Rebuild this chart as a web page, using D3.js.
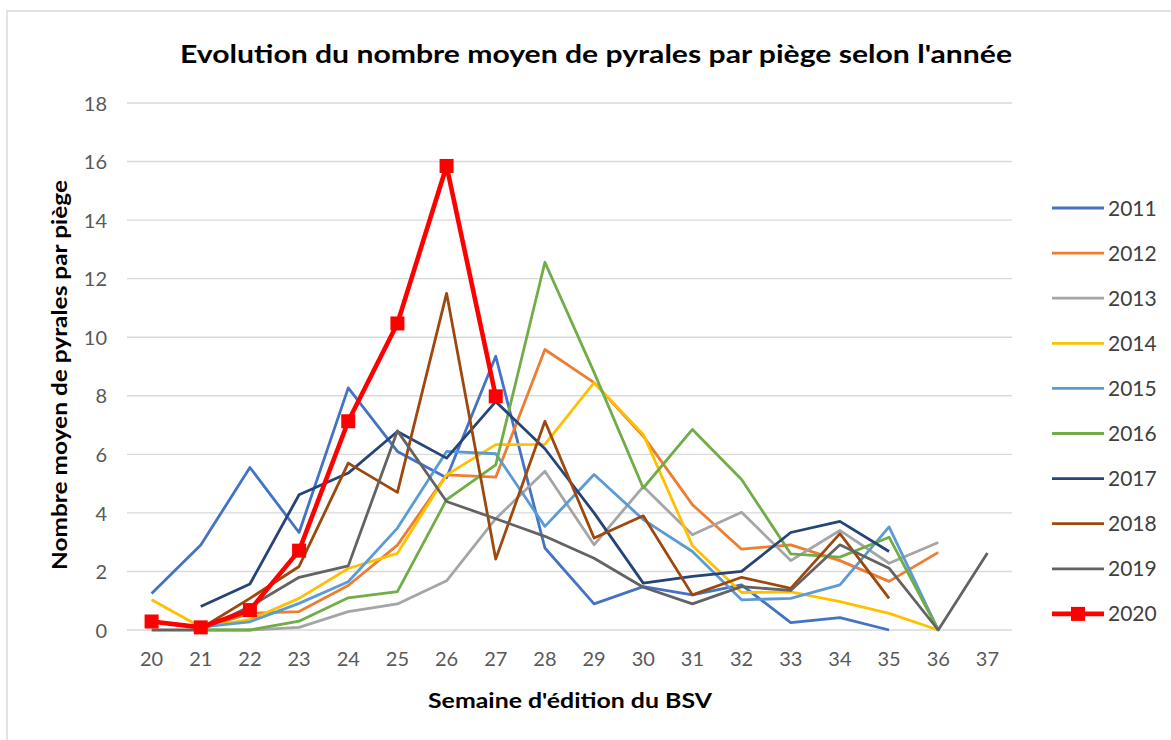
<!DOCTYPE html>
<html><head><meta charset="utf-8">
<script src="https://cdn.jsdelivr.net/npm/d3@7"></script>
<style>
html,body{margin:0;padding:0;background:#fff;}
svg{display:block;font-family:Lato,"Open Sans","Liberation Sans",sans-serif;}
</style></head><body>
<svg id="chart" width="1171" height="740"></svg>
<script>
const weeks = [20,21,22,23,24,25,26,27,28,29,30,31,32,33,34,35,36,37];
const years = ["2011","2012","2013","2014","2015","2016","2017","2018","2019","2020"];
const colors = ["#4472C4","#ED7D31","#A5A5A5","#FFC000","#5B9BD5","#70AD47","#264478","#9E480E","#636363","#FF0000"];
// values per week 20..37 (null = no data)
const s2011 = [1.25,2.9,5.55,3.33,8.27,6.1,5.2,9.35,2.8,0.89,1.48,1.2,1.54,0.25,0.42,0,null,null];
const s2012 = [null,0.05,0.57,0.63,1.52,2.9,5.3,5.22,9.58,8.45,6.62,4.28,2.76,2.91,2.37,1.66,2.65,null];
const s2013 = [null,0,0,0.09,0.63,0.89,1.68,3.8,5.42,2.91,4.9,3.25,4.02,2.37,3.4,2.28,2.99,null];
const s2014 = [1.03,0.1,0.35,1.08,2.1,2.62,5.3,6.33,6.34,8.45,6.68,2.88,1.28,1.3,0.97,0.57,0,null];
const s2015 = [null,0.1,0.28,0.91,1.65,3.48,6.1,6.02,3.54,5.31,3.77,2.68,1.03,1.08,1.54,3.52,0,null];
const s2016 = [null,0,0,0.3,1.1,1.31,4.45,5.64,12.56,8.8,4.85,6.85,5.14,2.6,2.49,3.17,0,null];
const s2017 = [null,0.8,1.57,4.62,5.36,6.78,5.87,7.8,6.19,4.0,1.6,1.83,2.0,3.33,3.71,2.68,null,null];
const s2018 = [null,0.05,1.08,2.17,5.7,4.7,11.5,2.42,7.13,3.14,3.9,1.2,1.8,1.42,3.29,1.08,null,null];
const s2019 = [0,0,0.8,1.8,2.19,6.8,4.39,3.8,3.2,2.45,1.46,0.89,1.48,1.35,2.91,2.11,0,2.63];
const s2020 = [0.29,0.09,0.68,2.71,7.13,10.47,15.85,7.98,null,null,null,null,null,null,null,null,null,null];
const series = [s2011,s2012,s2013,s2014,s2015,s2016,s2017,s2018,s2019,s2020];
const yTicks = [0,2,4,6,8,10,12,14,16,18];

const svg = d3.select("#chart");
// chart border
svg.append("rect").attr("x",7).attr("y",11).attr("width",1180).attr("height",760)
  .attr("fill","none").attr("stroke","#d9d9d9").attr("stroke-width",1.5);

const pLeft = 127, pRight = 1012, pTop = 103, pBottom = 630;
const x = d3.scaleBand().domain(weeks).range([pLeft,pRight]);
const y = d3.scaleLinear().domain([0,18]).range([pBottom,pTop]);
const cx = w => x(w) + x.bandwidth()/2;

// gridlines
svg.append("g").selectAll("line").data(yTicks).join("line")
  .attr("x1",pLeft).attr("x2",pRight)
  .attr("y1",d=>y(d)).attr("y2",d=>y(d))
  .attr("stroke","#d9d9d9").attr("stroke-width",1.4);

// y axis labels
const yAxis = svg.append("g").attr("transform",`translate(${pLeft-20},0)`)
  .call(d3.axisLeft(y).tickValues(yTicks).tickSize(0).tickPadding(0));
yAxis.select(".domain").remove();
yAxis.selectAll("text").attr("font-size",20).attr("fill","#595959")
  .attr("font-family","Lato,'Open Sans',sans-serif").attr("dy","0.36em");

// x axis labels
const xAxis = svg.append("g").attr("transform",`translate(0,${pBottom+22})`)
  .call(d3.axisBottom(x).tickSize(0).tickPadding(0));
xAxis.select(".domain").remove();
xAxis.selectAll("text").attr("font-size",20).attr("fill","#595959")
  .attr("font-family","Lato,'Open Sans',sans-serif").attr("dy","0.7em");

// lines
const line = d3.line().defined(d=>d.v!==null).x(d=>cx(d.w)).y(d=>y(d.v));
series.forEach((s,i)=>{
  const pts = weeks.map((w,j)=>({w:w,v:s[j]}));
  svg.append("path").datum(pts).attr("d",line).attr("fill","none")
    .attr("stroke",colors[i]).attr("stroke-width", i===9?4.6:2.8)
    .attr("stroke-linejoin","round");
  if(i===9){
    svg.append("g").selectAll("rect").data(pts.filter(d=>d.v!==null)).join("rect")
      .attr("x",d=>cx(d.w)-7).attr("y",d=>y(d.v)-7).attr("width",14).attr("height",14)
      .attr("fill","#FF0000");
  }
});

// title
svg.append("text").attr("x",596).attr("y",63).attr("text-anchor","middle")
  .attr("font-size",25).attr("font-weight","bold").attr("fill","#000")
  .attr("textLength",832).attr("lengthAdjust","spacingAndGlyphs")
  .text("Evolution du nombre moyen de pyrales par piège selon l'année");

// axis titles
svg.append("text").attr("transform","translate(67,375) rotate(-90)").attr("text-anchor","middle")
  .attr("font-size",20).attr("font-weight","bold").attr("fill","#000")
  .attr("textLength",390).attr("lengthAdjust","spacingAndGlyphs")
  .text("Nombre moyen de pyrales par piège");
svg.append("text").attr("x",570).attr("y",708).attr("text-anchor","middle")
  .attr("font-size",20).attr("font-weight","bold").attr("fill","#000")
  .attr("textLength",284).attr("lengthAdjust","spacingAndGlyphs")
  .text("Semaine d'édition du BSV");

// legend
const lg = svg.append("g");
years.forEach((yr,i)=>{
  const ly = 208 + i*45.1;
  lg.append("line").attr("x1",1052).attr("x2",1104).attr("y1",ly).attr("y2",ly)
    .attr("stroke",colors[i]).attr("stroke-width", i===9?4.6:2.8);
  if(i===9) lg.append("rect").attr("x",1071).attr("y",ly-7).attr("width",14).attr("height",14).attr("fill","#FF0000");
  lg.append("text").attr("x",1108).attr("y",ly).attr("dy","0.36em").attr("font-size",21)
    .attr("fill","#404040").text(yr);
});
</script>
</body></html>
